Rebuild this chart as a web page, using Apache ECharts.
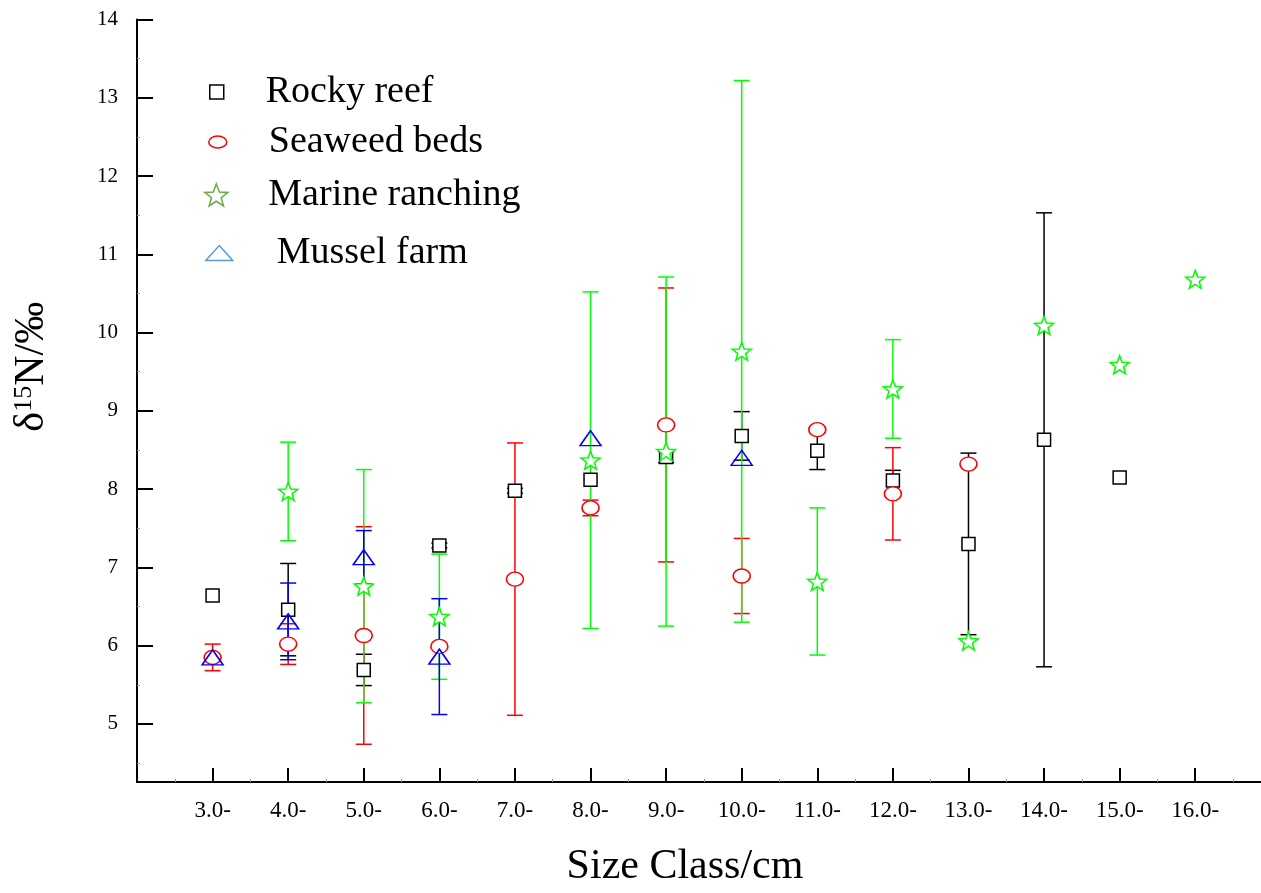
<!DOCTYPE html>
<html>
<head>
<meta charset="utf-8">
<script src="https://cdn.jsdelivr.net/npm/echarts@6/dist/echarts.min.js"></script>
<style>
  html, body { margin: 0; padding: 0; background: #fff; }
  #chart { width: 1261px; height: 893px; }
</style>
</head>
<body>
<div id="chart"></div>
<script>
// Size classes (cm) and their tick labels
const sizeClasses = [3, 4, 5, 6, 7, 8, 9, 10, 11, 12, 13, 14, 15, 16];
const sizeLabels = ['3.0-', '4.0-', '5.0-', '6.0-', '7.0-', '8.0-', '9.0-', '10.0-', '11.0-', '12.0-', '13.0-', '14.0-', '15.0-', '16.0-'];
const yTicks = [5, 6, 7, 8, 9, 10, 11, 12, 13, 14];

// Mean δ15N (‰) and standard deviation per size class, one pair per habitat
const rockyMean    = [6.64, 6.46, 5.69, 7.28, 7.98, 8.12, 8.41, 8.68, 8.49, 8.11, 7.30, 8.63, 8.15, null];
const rockySD      = [null, 0.59, 0.20, 0.03, 0.03, null, 0.07, 0.31, 0.24, 0.13, 1.16, 2.90, null, null];
const seaweedMean  = [5.85, 6.02, 6.13, 5.99, 6.85, 7.76, 8.82, 6.89, 8.76, 7.94, 8.32, null, null, null];
const seaweedSD    = [0.17, 0.26, 1.39, 0.03, 1.74, 0.10, 1.75, 0.48, 0.03, 0.59, null, null, null, null];
const ranchingMean = [null, 7.97, 6.76, 6.37, null, 8.37, 8.48, 9.76, 6.82, 9.28, 6.06, 10.09, 9.59, 10.68];
const ranchingSD   = [null, 0.63, 1.49, 0.80, null, 2.15, 2.23, 3.46, 0.94, 0.63, null, null, null, null];
const musselMean   = [5.85, 6.31, 7.13, 5.86, null, 8.65, null, 8.40, null, null, null, null, null, null];
const musselSD     = [null, 0.49, 0.34, 0.74, null, null, null, null, null, null, null, null, null, null];

const SERIF = 'Liberation Serif';
const STAR = 'path://M10,0L12.469,6.602L19.511,6.910L13.995,11.298L15.878,18.090L10,14.2L4.122,18.090L6.005,11.298L0.489,6.910L7.531,6.602Z';
const ELLIPSE = 'path://M0,6A9,6 0 1,1 18,6A9,6 0 1,1 0,6Z';

const groups = [
  { name: 'Rocky reef',      mean: rockyMean,    sd: rockySD,    color: '#000000', keyColor: '#000000',
    symbol: 'rect', size: 13, fill: '#ffffff', icon: 'rect', iw: 14, ih: 14, left: 209, mid: 92, gap: 37 },
  { name: 'Seaweed beds',    mean: seaweedMean,  sd: seaweedSD,  color: '#ff0000', keyColor: '#ff0000',
    symbol: 'circle', size: [17, 14], fill: '#ffffff', icon: ELLIPSE, iw: 18, ih: 12, left: 208, mid: 142, gap: 37 },
  { name: 'Marine ranching', mean: ranchingMean, sd: ranchingSD, color: '#00ff00', keyColor: '#6aab45',
    symbol: STAR, size: [19, 18], fill: '#ffffff', icon: STAR, iw: 24, ih: 22, left: 204, mid: 195, gap: 35 },
  { name: 'Mussel farm',     mean: musselMean,   sd: musselSD,   color: '#0000ff', keyColor: '#5b9bd5',
    symbol: 'triangle', size: [21, 15], fill: 'transparent', icon: 'triangle', iw: 27, ih: 15, left: 205, mid: 253, gap: 39 }
];

function errorBars(color) {
  return function (params, api) {
    const x = api.value(0);
    const pHi = api.coord([x, api.value(2)]);
    const pLo = api.coord([x, api.value(1)]);
    const half = 8;
    const style = { stroke: color, lineWidth: 1.5, fill: null };
    return {
      type: 'group',
      children: [
        { type: 'line', shape: { x1: pHi[0], y1: pHi[1], x2: pLo[0], y2: pLo[1] }, style: style },
        { type: 'line', shape: { x1: pHi[0] - half, y1: pHi[1], x2: pHi[0] + half, y2: pHi[1] }, style: style },
        { type: 'line', shape: { x1: pLo[0] - half, y1: pLo[1], x2: pLo[0] + half, y2: pLo[1] }, style: style }
      ]
    };
  };
}

const series = [];
const legends = [];
groups.forEach(function (g) {
  const bars = [];
  const points = [];
  sizeClasses.forEach(function (c, i) {
    const m = g.mean[i];
    if (m == null) return;
    points.push([c, m]);
    const s = g.sd[i];
    if (s != null) bars.push([c, m - s, m + s]);
  });
  series.push({
    name: g.name, type: 'custom', renderItem: errorBars(g.color),
    encode: { x: 0, y: [1, 2] }, data: bars, silent: true
  });
  series.push({
    name: g.name, type: 'scatter', data: points,
    symbol: g.symbol, symbolSize: g.size,
    itemStyle: { color: g.fill, borderColor: g.color, borderWidth: 1.5, opacity: 1 }
  });
  legends.push({
    left: g.left, top: g.mid - 19, padding: 0, orient: 'vertical',
    itemWidth: g.iw, itemHeight: g.ih, selectedMode: false,
    textStyle: { fontFamily: SERIF, fontSize: 38, color: '#000', padding: [0, 0, 0, g.gap] },
    data: [{ name: g.name, icon: g.icon,
      itemStyle: { color: g.fill === 'transparent' ? 'rgba(0,0,0,0)' : '#ffffff', borderColor: g.keyColor, borderWidth: 1.5 } }]
  });
});

const chart = echarts.init(document.getElementById('chart'), null, { renderer: 'canvas' });
chart.setOption({
  animation: false,
  backgroundColor: '#ffffff',
  grid: { left: 137, right: 0, top: 19.5, bottom: 108, containLabel: false },
  legend: legends,
  xAxis: [{
    type: 'value', position: 'bottom', min: 2, max: 16.87,
    name: 'Size Class/cm', nameLocation: 'middle', nameGap: 64,
    nameTextStyle: { fontFamily: SERIF, fontSize: 42, color: '#000', padding: [0, 28, 0, 0] },
    axisLine: { onZero: false, lineStyle: { color: '#000', width: 2 } },
    axisTick: { inside: true, length: 14, customValues: sizeClasses, lineStyle: { color: '#000', width: 2 } },
    axisLabel: { customValues: sizeClasses, margin: 17, fontFamily: SERIF, fontSize: 23, color: '#000',
      formatter: function (v) { return sizeLabels[sizeClasses.indexOf(Math.round(v))]; } },
    splitLine: { show: false }
  }, {
    // half-class minor ticks
    type: 'value', position: 'bottom', offset: 0, min: 2, max: 16.87,
    axisLine: { show: false },
    axisTick: { inside: true, length: 3, customValues: sizeClasses.map(function (c) { return c - 0.5; }).concat([16.5]),
      lineStyle: { color: '#9a9a9a', width: 1 } },
    axisLabel: { show: false }, splitLine: { show: false }
  }],
  yAxis: [{
    type: 'value', position: 'left', min: 4.258, max: 14,
    name: '{d|δ}{s|15}{d|N/‰}', nameLocation: 'middle', nameRotate: 90, nameGap: 84,
    nameTextStyle: { fontFamily: SERIF, color: '#000', padding: [0, 0, 0, 68],
      rich: {
        d: { fontFamily: SERIF, fontSize: 42, color: '#000' },
        s: { fontFamily: SERIF, fontSize: 26, color: '#000', verticalAlign: 'top' }
      } },
    axisLine: { onZero: false, lineStyle: { color: '#000', width: 2 } },
    axisTick: { inside: true, length: 16, customValues: yTicks, lineStyle: { color: '#000', width: 2 } },
    axisLabel: { customValues: yTicks, margin: 19, fontFamily: SERIF, fontSize: 21, color: '#000' },
    splitLine: { show: false }
  }, {
    // half-unit minor ticks
    type: 'value', position: 'left', offset: 0, min: 4.258, max: 14,
    axisLine: { show: false },
    axisTick: { inside: true, length: 3, customValues: [4.5, 5.5, 6.5, 7.5, 8.5, 9.5, 10.5, 11.5, 12.5, 13.5],
      lineStyle: { color: '#9a9a9a', width: 1 } },
    axisLabel: { show: false }, splitLine: { show: false }
  }],
  series: series
});
</script>
</body>
</html>
